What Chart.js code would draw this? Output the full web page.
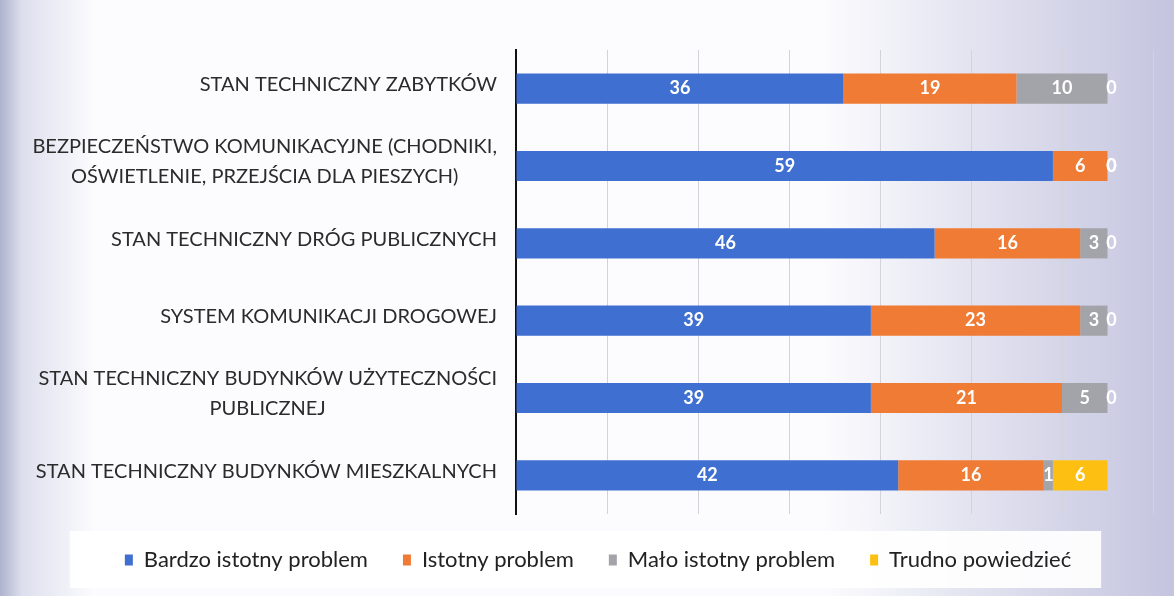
<!DOCTYPE html>
<html lang="pl">
<head>
<meta charset="utf-8">
<title>Ocena problemów gminy</title>
<script src="https://cdn.jsdelivr.net/npm/chart.js@4.4.1/dist/chart.umd.min.js"></script>
<style>
    html, body { margin: 0; padding: 0; }
    body {
        width: 1174px;
        height: 596px;
        overflow: hidden;
        background:
            linear-gradient(90deg, rgba(165,170,200,0.9) 0px, rgba(200,204,226,0.6) 22px, rgba(255,255,255,0) 95px),
            linear-gradient(90deg, rgba(255,255,255,0) 70%, rgba(208,208,230,0.7) 86%, rgba(190,190,220,0.9) 100%),
            #fcfcfe;
    }
    #wrap { position: relative; width: 1174px; height: 596px; }
</style>
</head>
<body>
<div id="wrap"><canvas id="wykres"></canvas></div>
<script>
// Dane
const kategorie = [
    ['STAN TECHNICZNY ZABYTKÓW'],
    ['BEZPIECZEŃSTWO KOMUNIKACYJNE (CHODNIKI,', 'OŚWIETLENIE, PRZEJŚCIA DLA PIESZYCH)'],
    ['STAN TECHNICZNY DRÓG PUBLICZNYCH'],
    ['SYSTEM KOMUNIKACJI DROGOWEJ'],
    ['STAN TECHNICZNY BUDYNKÓW UŻYTECZNOŚCI', 'PUBLICZNEJ'],
    ['STAN TECHNICZNY BUDYNKÓW MIESZKALNYCH']
];
const bardzoIstotny = [36, 59, 46, 39, 39, 42];
const istotny = [19, 6, 16, 23, 21, 16];
const maloIstotny = [10, 0, 3, 3, 5, 1];
const trudnoPowiedziec = [0, 0, 0, 0, 0, 6];
const osX = { min: 0, max: 70, krok: 10 };

const FONT = 'Lato, "Open Sans", sans-serif';

// Etykiety wartości wewnątrz słupków
const etykietyWartosci = {
    id: 'etykietyWartosci',
    afterDatasetsDraw(chart) {
        const ctx = chart.ctx;
        ctx.save();
        ctx.font = 'bold 18px ' + FONT;
        ctx.fillStyle = '#ffffff';
        ctx.textAlign = 'center';
        ctx.textBaseline = 'middle';
        chart.data.datasets.forEach((ds, d) => {
            const meta = chart.getDatasetMeta(d);
            meta.data.forEach((el, i) => {
                const v = ds.data[i];
                let x = (el.x + el.base) / 2;
                if (v === 0) x = el.x + 4;
                ctx.fillText(String(v), x, el.y);
            });
        });
        ctx.restore();
    }
};

// Opisy kategorii: blok wyrównany do osi, linie wyśrodkowane
const opisyKategorii = {
    id: 'opisyKategorii',
    afterDraw(chart) {
        const ctx = chart.ctx;
        const y = chart.scales.y;
        const prawa = chart.chartArea.left - 19;
        ctx.save();
        ctx.font = '20px ' + FONT;
        ctx.fillStyle = '#2b2b2b';
        ctx.textAlign = 'center';
        ctx.textBaseline = 'middle';
        kategorie.forEach((linie, i) => {
            const szer = Math.max(...linie.map(t => ctx.measureText(t).width));
            const srodek = prawa - szer / 2;
            const yc = y.getPixelForValue(i) - 4;
            const h = 30;
            linie.forEach((t, k) => {
                ctx.fillText(t, srodek, yc + (k - (linie.length - 1) / 2) * h);
            });
        });
        ctx.restore();
    }
};

// Białe tło pod legendą
const tloLegendy = {
    id: 'tloLegendy',
    beforeDraw(chart) {
        const lg = chart.legend;
        if (!lg || !lg.legendHitBoxes.length) return;
        const boxes = lg.legendHitBoxes;
        const x0 = boxes[0].left - 55;
        const x1 = boxes[boxes.length - 1].left + boxes[boxes.length - 1].width + 30;
        const yc = boxes[0].top + boxes[0].height / 2;
        const ctx = chart.ctx;
        ctx.save();
        ctx.fillStyle = 'rgba(255,255,255,0.92)';
        ctx.fillRect(x0, yc - 29, x1 - x0, 57);
        ctx.restore();
    }
};

const wykres = new Chart(document.getElementById('wykres'), {
    type: 'bar',
    data: {
        labels: kategorie,
        datasets: [
            { label: 'Bardzo istotny problem', data: bardzoIstotny, backgroundColor: '#3f6fd0' },
            { label: 'Istotny problem', data: istotny, backgroundColor: '#ef7b35' },
            { label: 'Mało istotny problem', data: maloIstotny, backgroundColor: '#a3a3aa' },
            { label: 'Trudno powiedzieć', data: trudnoPowiedziec, backgroundColor: '#fdc012' }
        ]
    },
    options: {
        indexAxis: 'y',
        responsive: true,
        maintainAspectRatio: false,
        animation: false,
        barPercentage: 0.39,
        categoryPercentage: 1,
        layout: { padding: { top: 50, left: 43, right: 21, bottom: 15 } },
        scales: {
            x: {
                stacked: true,
                min: osX.min,
                max: osX.max,
                ticks: { display: false, stepSize: osX.krok },
                grid: { color: '#d2d2d8', lineWidth: 1, drawTicks: false },
                border: { display: false },
                afterFit(scale) { scale.height = 0; }
            },
            y: {
                stacked: true,
                ticks: { display: false },
                grid: { display: false },
                border: { display: true, color: '#111111', width: 2 },
                afterFit(scale) { scale.width = 473; }
            }
        },
        plugins: {
            legend: {
                position: 'bottom',
                labels: {
                    boxWidth: 8,
                    boxHeight: 11,
                    padding: 35,
                    color: '#222222',
                    font: { family: FONT, size: 22 }
                }
            },
            tooltip: { enabled: false }
        }
    },
    plugins: [etykietyWartosci, opisyKategorii, tloLegendy]
});
</script>
</body>
</html>
